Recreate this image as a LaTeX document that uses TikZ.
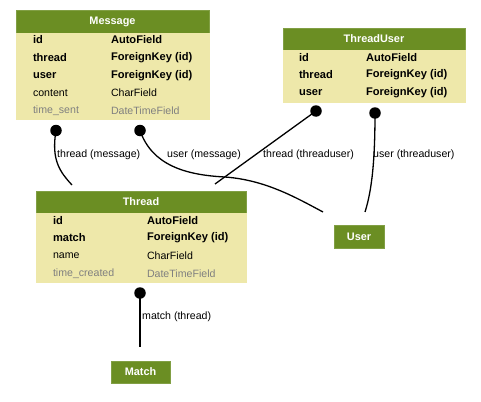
\documentclass[tikz,border=0pt]{standalone}
\usepackage{fontspec}
\setmainfont{Liberation Sans}
\usepackage{tikz}
\usepackage{xcolor}
\usetikzlibrary{positioning}
\definecolor{head-green}{HTML}{6B8E23}
\definecolor{body-yellow}{HTML}{EEE8AA}
\definecolor{text-grey}{HTML}{808080}

\begin{document}
\begin{tikzpicture}
[
x=1pt, y=-1pt,
head-a/.style={fill=head-green, draw=head-green!85!white, text=white, minimum height=22.50pt, inner sep=0pt, font=\fontsize{10.9}{13}\selectfont\bfseries},
body-a/.style={fill=body-yellow, draw=body-yellow, inner sep=0pt},
row-a/.style={minimum height=17.30pt, inner sep=0pt, font=\fontsize{11.1}{13}\selectfont\bfseries},
row-b/.style={minimum height=17.30pt, inner sep=0pt, font=\fontsize{10.6}{13}\selectfont},
row-c/.style={minimum height=17.30pt, inner sep=0pt, text=text-grey, font=\fontsize{10.6}{13}\selectfont},
dot-a/.style={circle, fill=black, minimum size=11.50pt, inner sep=0pt},
text-a/.style={black, anchor=west, inner sep=0pt, font=\fontsize{10.6}{13}\selectfont},
line-a/.style={line width=1.30pt}
]
\useasboundingbox (0,0) rectangle (481,401);
% Message
\node (msg-head)   [head-a, minimum width=193pt] at (112.5,21.5) {Message};
\node (msg-body)   [body-a, minimum width=193pt, minimum height=86.00pt, below = 00.00pt of msg-head] {};
\node (msg-id)     [row-a, below right = -02.00pt and 17.00pt of msg-head.south west] {id};
\node (msg-thread) [row-a, below = 00.00pt of msg-id.south west, anchor=north west] {thread};
\node (msg-user)   [row-a, below = 00.00pt of msg-thread.south west, anchor=north west] {user};
\node (msg-cont)   [row-b, below = 00.00pt of msg-user.south west, anchor=north west] {content};
\node (msg-time)   [row-c, below = 00.00pt of msg-cont.south west, anchor=north west] {time\_sent};
\node (msg-id-t)     [row-a, anchor=west] at ([xshift=78pt]msg-id.west)     {AutoField};
\node (msg-thread-t) [row-a, anchor=west] at ([xshift=78pt]msg-thread.west) {ForeignKey (id)};
\node (msg-user-t)   [row-a, anchor=west] at ([xshift=78pt]msg-user.west)   {ForeignKey (id)};
\node (msg-cont-t)   [row-b, anchor=west] at ([xshift=78pt]msg-cont.west)   {CharField};
\node (msg-time-t)   [row-c, anchor=west] at ([xshift=78pt]msg-time.west)   {DateTimeField};
% ThreadUser
\node (tu-head)   [head-a, minimum width=182pt] at (374,39) {ThreadUser};
\node (tu-body)   [body-a, minimum width=182pt, minimum height=52.00pt, below = 00.00pt of tu-head] {};
\node (tu-id)     [row-a, below right = -02.00pt and 16.00pt of tu-head.south west] {id};
\node (tu-thread) [row-a, below = 00.00pt of tu-id.south west, anchor=north west] {thread};
\node (tu-user)   [row-a, below = 00.00pt of tu-thread.south west, anchor=north west] {user};
\node (tu-id-t)     [row-a, anchor=west] at ([xshift=67pt]tu-id.west)     {AutoField};
\node (tu-thread-t) [row-a, anchor=west] at ([xshift=67pt]tu-thread.west) {ForeignKey (id)};
\node (tu-user-t)   [row-a, anchor=west] at ([xshift=67pt]tu-user.west)   {ForeignKey (id)};
% Thread
\node (th-head)  [head-a, minimum width=210pt] at (141,202) {Thread};
\node (th-body)  [body-a, minimum width=210pt, minimum height=69.00pt, below = 00.00pt of th-head] {};
\node (th-id)    [row-a, below right = -02.00pt and 17.00pt of th-head.south west] {id};
\node (th-match) [row-a, below = 00.00pt of th-id.south west, anchor=north west] {match};
\node (th-name)  [row-b, below = 00.00pt of th-match.south west, anchor=north west] {name};
\node (th-time)  [row-c, below = 00.00pt of th-name.south west, anchor=north west] {time\_created};
\node (th-id-t)    [row-a, anchor=west] at ([xshift=94pt]th-id.west)    {AutoField};
\node (th-match-t) [row-a, anchor=west] at ([xshift=94pt]th-match.west) {ForeignKey (id)};
\node (th-name-t)  [row-b, anchor=west] at ([xshift=94pt]th-name.west)  {CharField};
\node (th-time-t)  [row-c, anchor=west] at ([xshift=94pt]th-time.west)  {DateTimeField};
% User, Match
\node (user-head)  [head-a, minimum width=50pt] at (359,236.5) {User};
\node (match-head) [head-a, minimum width=59pt] at (140.5,372) {Match};
% dots and ends
\node (dot-1) [dot-a] at (56,130.5)  {};
\node (dot-2) [dot-a] at (140,130.5) {};
\node (dot-3) [dot-a] at (316,111) {};
\node (dot-4) [dot-a] at (375,113) {};
\node (dot-5) [dot-a] at (140,293) {};
\coordinate (end-1) at (72,185);
\coordinate (end-2) at (323,212);
\coordinate (end-3) at (215,184);
\coordinate (end-4) at (365,212);
\coordinate (end-5) at (140,347);
\draw [line-a] (dot-1.center) .. controls (51,160) and (60,172) .. (end-1);
\draw [line-a] (dot-2.center) .. controls (152,165) and (185,175) .. (225,177) .. controls (265,180) and (295,197) .. (end-2);
\draw [line-a] (dot-3.center) -- (end-3);
\draw [line-a] (dot-4.center) .. controls (375,160) and (372,190) .. (end-4);
\draw [line-a] (dot-5.center) -- (end-5);
% labels
\node (lab-1) [text-a] at (57,155)  {thread (message)};
\node (lab-2) [text-a] at (167,155) {user (message)};
\node (lab-3) [text-a] at (263,155) {thread (threaduser)};
\node (lab-4) [text-a] at (373,155) {user (threaduser)};
\node (lab-5) [text-a] at (142,317) {match (thread)};
\end{tikzpicture}
\end{document}
